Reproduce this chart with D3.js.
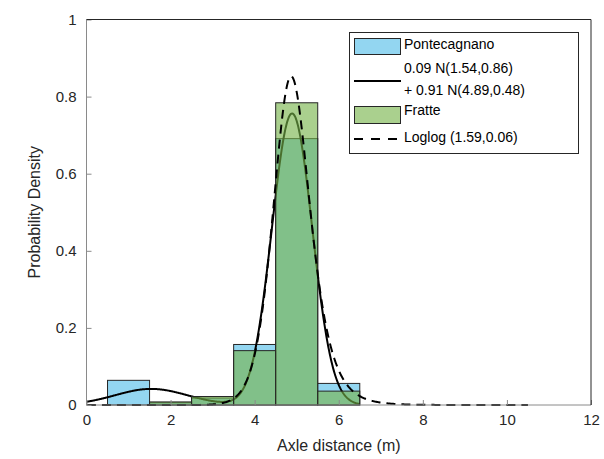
<!DOCTYPE html>
<html>
<head>
<meta charset="utf-8">
<script src="https://cdn.jsdelivr.net/npm/d3@7"></script>
<style>
  body { margin: 0; background: #fff; }
  svg { display: block; font-family: "Liberation Sans", Arial, sans-serif; }
</style>
</head>
<body>
<svg id="chart" width="604" height="459"></svg>
<script>
// Histogram bins (m) and densities for the two sites
const binEdges = [0.5, 1.5, 2.5, 3.5, 4.5, 5.5, 6.5];
const pontecagnano = [0.064, 0.006, 0.018, 0.157, 0.691, 0.056];
const fratte = [0.0, 0.008, 0.022, 0.141, 0.784, 0.036];

// Fitted models, parameters as given in the legend
const mixWeights = [0.09, 0.91];
const mixMeans = [1.54, 4.89];
const mixSigmas = [0.86, 0.48];
const mixRange = [0, 6.5];
const loglogParams = [1.59, 0.06];
const loglogRange = [0.01, 10.5];

const xTicks = [0, 2, 4, 6, 8, 10, 12];
const yTicks = [0, 0.2, 0.4, 0.6, 0.8, 1];
const yTickLabels = ["0", "0.2", "0.4", "0.6", "0.8", "1"];

const legendLabels = ["Pontecagnano", "0.09 N(1.54,0.86)", "+ 0.91 N(4.89,0.48)", "Fratte", "Loglog (1.59,0.06)"];

const svg = d3.select("#chart");
const m = { left: 86.5, right: 591, top: 19.5, bottom: 405 };

const x = d3.scaleLinear().domain([0, 12]).range([m.left, m.right]);
const y = d3.scaleLinear().domain([0, 1]).range([m.bottom, m.top]);

const blue = "#93d6f1";
const green = "#76b349";
const greenAlpha = 0.62;
const edge = "#262626";

// densities of the fitted models
function mixturePdf(v) {
  let s = 0;
  for (let i = 0; i < mixWeights.length; i++) {
    const z = (v - mixMeans[i]) / mixSigmas[i];
    s += mixWeights[i] * Math.exp(-0.5 * z * z) / (mixSigmas[i] * Math.sqrt(2 * Math.PI));
  }
  return s;
}
function loglogPdf(v) {
  const [mu, sig] = loglogParams;
  const z = (Math.log(v) - mu) / sig;
  const e = Math.exp(z);
  return e / (sig * v * (1 + e) * (1 + e));
}
function sample(f, lo, hi, n) {
  const pts = [];
  for (let i = 0; i <= n; i++) {
    const v = lo + (hi - lo) * i / n;
    pts.push([v, f(v)]);
  }
  return pts;
}
const line = d3.line().x(d => x(d[0])).y(d => y(d[1]));

const bins = fratte.map((_, i) => ({ x0: binEdges[i], x1: binEdges[i + 1] }));

// Pontecagnano histogram (opaque)
svg.append("g").selectAll("rect")
  .data(bins.map((b, i) => ({ ...b, v: pontecagnano[i] })).filter(d => d.v > 0))
  .join("rect")
  .attr("x", d => x(d.x0)).attr("width", d => x(d.x1) - x(d.x0))
  .attr("y", d => y(d.v)).attr("height", d => y(0) - y(d.v))
  .attr("fill", blue).attr("stroke", edge).attr("stroke-width", 1);

// Gaussian mixture fit
svg.append("path")
  .datum(sample(mixturePdf, mixRange[0], mixRange[1], 400))
  .attr("d", line).attr("fill", "none")
  .attr("stroke", "#000").attr("stroke-width", 2);

// Fratte histogram (semi-transparent, over the mixture line)
svg.append("g").selectAll("rect")
  .data(bins.map((b, i) => ({ ...b, v: fratte[i] })).filter(d => d.v > 0))
  .join("rect")
  .attr("x", d => x(d.x0)).attr("width", d => x(d.x1) - x(d.x0))
  .attr("y", d => y(d.v)).attr("height", d => y(0) - y(d.v))
  .attr("fill", green).attr("fill-opacity", greenAlpha)
  .attr("stroke", edge).attr("stroke-width", 1);

// Log-logistic fit
svg.append("path")
  .datum(sample(loglogPdf, loglogRange[0], loglogRange[1], 800))
  .attr("d", line).attr("fill", "none")
  .attr("stroke", "#000").attr("stroke-width", 2)
  .attr("stroke-dasharray", "9,6");

// Axes
const tickColor = "#262626";
const xAxis = d3.axisBottom(x).tickValues(xTicks).tickSize(-5).tickPadding(9).tickFormat(d3.format("d"));
const gx = svg.append("g").attr("transform", `translate(0,${m.bottom})`).call(xAxis);
gx.select(".domain").attr("stroke", "#8a8a8a").attr("d", `M${m.left},0H${m.right}`);
gx.selectAll(".tick line").attr("stroke", "#8a8a8a");
gx.selectAll(".tick text").attr("fill", tickColor).attr("font-size", 15).attr("font-family", "Liberation Sans, Arial, sans-serif");

const yAxis = d3.axisLeft(y).tickValues(yTicks).tickSize(-5).tickPadding(10).tickFormat((d, i) => yTickLabels[i]);
const gy = svg.append("g").attr("transform", `translate(${m.left},0)`).call(yAxis);
gy.select(".domain").attr("stroke", "#8a8a8a").attr("d", `M0,${m.bottom}V${m.top}`);
gy.selectAll(".tick line").attr("stroke", "#8a8a8a");
gy.selectAll(".tick text").attr("fill", tickColor).attr("font-size", 15).attr("font-family", "Liberation Sans, Arial, sans-serif");

// Box: top and right edges
svg.append("path")
  .attr("d", `M${m.left},${m.top}H${m.right}V${m.bottom}`)
  .attr("fill", "none").attr("stroke", "#262626").attr("stroke-width", 1);

// Axis titles
svg.append("text")
  .attr("x", (m.left + m.right) / 2).attr("y", 451)
  .attr("text-anchor", "middle").attr("font-size", 16).attr("fill", tickColor)
  .text("Axle distance (m)");
svg.append("text")
  .attr("transform", `translate(40,${(m.top + m.bottom) / 2}) rotate(-90)`)
  .attr("text-anchor", "middle").attr("font-size", 16).attr("fill", tickColor)
  .text("Probability Density");

// Legend
const lg = svg.append("g");
lg.append("rect").attr("x", 349.5).attr("y", 32.5).attr("width", 229).attr("height", 121)
  .attr("fill", "#fff").attr("stroke", "#262626").attr("stroke-width", 1);
lg.append("rect").attr("x", 354.5).attr("y", 38.5).attr("width", 46).attr("height", 16)
  .attr("fill", blue).attr("stroke", edge);
lg.append("line").attr("x1", 354).attr("x2", 401).attr("y1", 81).attr("y2", 81)
  .attr("stroke", "#000").attr("stroke-width", 2);
lg.append("rect").attr("x", 354.5).attr("y", 106.5).attr("width", 46).attr("height", 17)
  .attr("fill", green).attr("fill-opacity", greenAlpha).attr("stroke", edge);
lg.append("line").attr("x1", 354).attr("x2", 401).attr("y1", 139).attr("y2", 139)
  .attr("stroke", "#000").attr("stroke-width", 2).attr("stroke-dasharray", "9,8");
const legendY = [49, 73, 95, 115, 142];
lg.selectAll("text.lab").data(legendLabels).join("text").attr("class", "lab")
  .attr("x", 404).attr("y", (d, i) => legendY[i])
  .attr("font-size", 14).attr("fill", "#000").text(d => d);
</script>
</body>
</html>
